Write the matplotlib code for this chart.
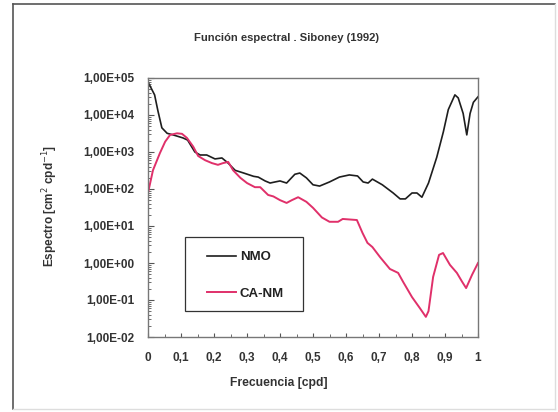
import math
import matplotlib
matplotlib.use("Agg")
import matplotlib.pyplot as plt
from matplotlib.lines import Line2D
from matplotlib.patches import Rectangle
from matplotlib.ticker import FixedLocator, MultipleLocator, LogLocator, FuncFormatter, NullFormatter

plt.rcParams['font.family'] = ['Liberation Sans', 'DejaVu Sans']

# NMO spectrum
nmo_freq = [0.0, 0.02, 0.03, 0.042, 0.058, 0.076, 0.106, 0.12, 0.142, 0.158, 0.178,
            0.203, 0.224, 0.243, 0.264, 0.29, 0.32, 0.334, 0.355, 0.37, 0.385, 0.40,
            0.42, 0.445, 0.46, 0.48, 0.50, 0.52, 0.55, 0.58, 0.61, 0.635, 0.652,
            0.667, 0.68, 0.71, 0.743, 0.764, 0.78, 0.80, 0.815, 0.83, 0.85, 0.875,
            0.895, 0.91, 0.93, 0.94, 0.955, 0.966, 0.976, 0.986, 1.0]
nmo_spec = [7.8e4, 3.5e4, 1.3e4, 4.5e3, 3.2e3, 2.9e3, 2.4e3, 2.1e3, 1.0e3, 830, 830,
            650, 690, 500, 320, 270, 220, 210, 165, 145, 155, 165,
            145, 250, 270, 200, 130, 120, 155, 210, 240, 225, 155,
            145, 185, 130, 78, 54, 54, 78, 78, 60, 145, 720,
            3.5e3, 1.4e4, 3.5e4, 2.9e4, 1.1e4, 2.9e3, 1.1e4, 2.2e4, 3.1e4]

# CA-NM spectrum
canm_freq = [0.0, 0.015, 0.036, 0.052, 0.067, 0.088, 0.103, 0.118, 0.137, 0.152,
             0.173, 0.194, 0.212, 0.227, 0.243, 0.258, 0.28, 0.30, 0.324, 0.34,
             0.364, 0.38, 0.40, 0.42, 0.436, 0.455, 0.48, 0.50, 0.527, 0.55,
             0.576, 0.59, 0.633, 0.650, 0.665, 0.68, 0.703, 0.733, 0.758, 0.773,
             0.80, 0.824, 0.842, 0.85, 0.864, 0.882, 0.894, 0.915, 0.936, 0.952,
             0.964, 0.982, 1.0]
canm_spec = [78, 320, 930, 1.9e3, 2.9e3, 3.2e3, 3.1e3, 2.4e3, 1.4e3, 780,
             600, 500, 450, 500, 540, 320, 200, 145, 112, 112,
             69, 63, 50, 42, 50, 60, 45, 31, 17, 13,
             13, 15.5, 14.5, 6.5, 3.5, 2.7, 1.45, 0.69, 0.54, 0.31,
             0.12, 0.06, 0.035, 0.05, 0.42, 1.66, 1.86, 0.89, 0.54, 0.31,
             0.21, 0.48, 1.0]

x_ticks = [0, 0.1, 0.2, 0.3, 0.4, 0.5, 0.6, 0.7, 0.8, 0.9, 1.0]
x_tick_labels = ['0', '0,1', '0,2', '0,3', '0,4', '0,5', '0,6', '0,7', '0,8', '0,9', '1']
y_ticks = [1e-2, 1e-1, 1e0, 1e1, 1e2, 1e3, 1e4, 1e5]

W, H = 558, 412
fig = plt.figure(figsize=(W / 100, H / 100), dpi=100)
fig.patch.set_facecolor('white')

# outer chart frame
fig.add_artist(Line2D([13 / W, 13 / W], [1 - 409 / H, 1 - 4 / H], color='#555555', lw=1.2))
fig.add_artist(Line2D([13 / W, 555 / W], [1 - 4 / H, 1 - 4 / H], color='#555555', lw=1.2))
fig.add_artist(Line2D([555 / W, 555 / W], [1 - 409 / H, 1 - 4 / H], color='#dddddd', lw=1.0))
fig.add_artist(Line2D([13 / W, 555 / W], [1 - 409 / H, 1 - 409 / H], color='#dddddd', lw=1.0))

ax = fig.add_axes([148 / W, 1 - 337 / H, 330 / W, 259 / H])

ax.plot(nmo_freq, nmo_spec, color='#1e1e1e', lw=1.2, label='NMO')
ax.plot(canm_freq, canm_spec, color='#e0306a', lw=1.4, label='CA-NM')

ax.set_yscale('log')
ax.set_xlim(0, 1)
ax.set_ylim(1e-2, 1e5)

def sci_fmt(v, pos):
    exp = int(round(math.log10(v)))
    sign = '+' if exp >= 0 else '-'
    return '1,00E%s%02d' % (sign, abs(exp))

ax.yaxis.set_major_locator(FixedLocator(y_ticks))
ax.yaxis.set_major_formatter(FuncFormatter(sci_fmt))
ax.yaxis.set_minor_locator(LogLocator(base=10, subs=range(2, 10), numticks=20))
ax.yaxis.set_minor_formatter(NullFormatter())
ax.set_xticks(x_ticks)
ax.set_xticklabels(x_tick_labels)
ax.xaxis.set_minor_locator(MultipleLocator(0.05))

ax.tick_params(which='both', direction='in', colors='#555555', labelcolor='#333333')
ax.tick_params(axis='y', which='major', length=4, pad=10, labelsize=8.5)
ax.tick_params(axis='y', which='minor', length=2)
ax.tick_params(axis='x', which='major', length=3, pad=11, labelsize=8.5)
ax.tick_params(axis='x', which='minor', length=2)
for lab in ax.get_xticklabels() + ax.get_yticklabels():
    lab.set_fontweight('bold')
for sp in ax.spines.values():
    sp.set_color('#777777')
    sp.set_linewidth(1.0)

# legend box drawn separately so its padding can match the original
ax.add_patch(Rectangle((185 / W, 1 - 311 / H), 118 / W, 74 / H, transform=fig.transFigure,
                       facecolor='white', edgecolor='#333333', lw=0.9, zorder=3, clip_on=False))
leg = ax.legend(loc='upper left', bbox_to_anchor=((207 - 148) / 330, (337 - 251) / 259),
                frameon=False, prop={'weight': 'bold', 'size': 9.5}, handlelength=2.2,
                handletextpad=0.3, labelspacing=1.85, borderpad=0, borderaxespad=0)
leg.set_zorder(5)
for t in leg.get_texts():
    t.set_color('#222222')

fig.text(286 / W, 1 - 38 / H, 'Función espectral . Siboney (1992)', ha='center', va='center',
         fontsize=8.1, fontweight='bold', color='#333333')
fig.text(279 / W, 1 - 383 / H, 'Frecuencia [cpd]', ha='center', va='center',
         fontsize=8.7, fontweight='bold', color='#333333')
fig.text(50 / W, 1 - 206 / H, 'Espectro [cm$^{2}$ cpd$^{-1}$]', ha='center', va='center',
         rotation=90, fontsize=8.5, fontweight='bold', color='#333333')

fig.savefig('out.png', dpi=100)
